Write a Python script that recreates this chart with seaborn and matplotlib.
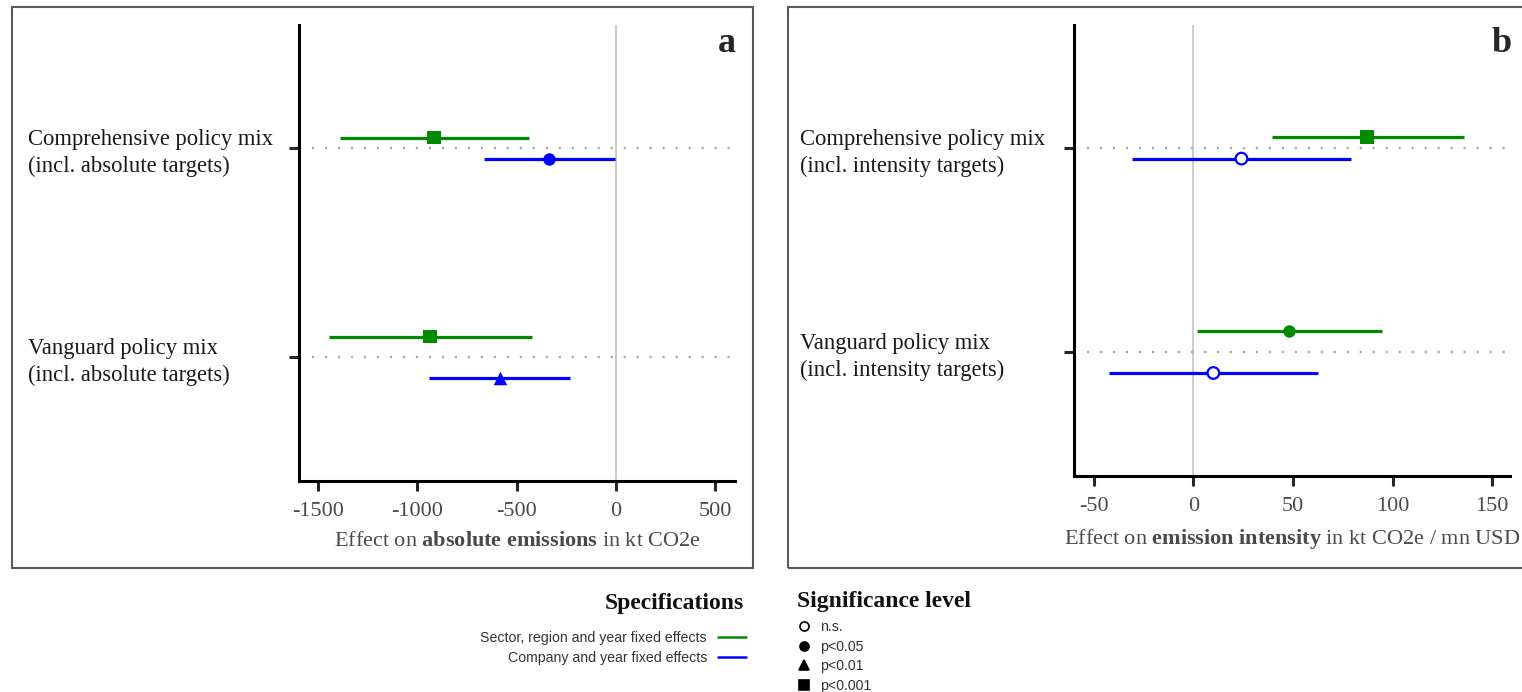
import numpy as np
import pandas as pd
import matplotlib
matplotlib.use("Agg")
import matplotlib.pyplot as plt
import seaborn as sns
from matplotlib.lines import Line2D
from matplotlib.patches import Rectangle
from matplotlib.font_manager import FontProperties

# ---------------- data ----------------
specs = ["Sector, region and year fixed effects", "Company and year fixed effects"]
sig_levels = ["n.s.", "p<0.05", "p<0.01", "p<0.001"]

cats_a = ["Comprehensive policy mix\n(incl. absolute targets)",
          "Vanguard policy mix\n(incl. absolute targets)"]
a_green_est = [-916, -936]
a_green_lo = [-1389, -1444]
a_green_hi = [-438, -423]
a_green_sig = ["p<0.001", "p<0.001"]
a_blue_est = [-337, -584]
a_blue_lo = [-664, -941]
a_blue_hi = [-5, -232]
a_blue_sig = ["p<0.05", "p<0.01"]

cats_b = ["Comprehensive policy mix\n(incl. intensity targets)",
          "Vanguard policy mix\n(incl. intensity targets)"]
b_green_est = [87.4, 48.2]
b_green_lo = [39.7, 2.0]
b_green_hi = [135.7, 94.5]
b_green_sig = ["p<0.001", "p<0.05"]
b_blue_est = [24.1, 10.0]
b_blue_lo = [-31.0, -42.2]
b_blue_hi = [78.9, 62.8]
b_blue_sig = ["n.s.", "n.s."]

xticks_a = [-1500, -1000, -500, 0, 500]
xticks_b = [-50, 0, 50, 100, 150]

# ---------------- style ----------------
GREEN = "#008a00"
BLUE = "#0000ff"
palette = {specs[0]: GREEN, specs[1]: BLUE}
marker_map = {"n.s.": "o", "p<0.05": "o", "p<0.01": "^", "p<0.001": "s"}
size_map = {"n.s.": 70, "p<0.05": 80, "p<0.01": 95, "p<0.001": 90}

sns.set_style("ticks")
plt.rcParams["font.family"] = ["Liberation Serif", "DejaVu Serif"]
plt.rcParams["mathtext.fontset"] = "custom"
plt.rcParams["mathtext.rm"] = "Liberation Serif"
plt.rcParams["mathtext.bf"] = "Liberation Serif:bold"
plt.rcParams["mathtext.it"] = "Liberation Serif:italic"

W, H = 1522, 692
fig = plt.figure(figsize=(W / 100, H / 100), dpi=100)
fig.patch.set_facecolor("white")


def fx(px):
    return px / W


def fy(py):
    return 1 - py / H


def build(cats, ge, gl, gh, gs, be, bl, bh, bs):
    rows = []
    for i, c in enumerate(cats):
        rows.append(dict(cat=c, idx=i, spec=specs[0], est=ge[i], lo=gl[i], hi=gh[i], sig=gs[i]))
        rows.append(dict(cat=c, idx=i, spec=specs[1], est=be[i], lo=bl[i], hi=bh[i], sig=bs[i]))
    return pd.DataFrame(rows)


def panel(ax, df, cats, offsets, ylim, xlim, xticks, xlabel, label_pad):
    sign = df["spec"].map({specs[0]: -1.0, specs[1]: 1.0})
    df = df.assign(y=df["idx"] + sign * df["idx"].map(lambda i: offsets[i]))
    ax.axvline(0, color="#c8c8c8", lw=1.3, zorder=1)
    for i in range(len(cats)):
        ax.axhline(i, color="#a8a8a8", lw=1.7, dashes=(0.9, 4.6), zorder=1)
    for _, r in df.iterrows():
        ax.hlines(r["y"], r["lo"], r["hi"], color=palette[r["spec"]], lw=2.3, zorder=2)
    filled = df[df["sig"] != "n.s."]
    for sig, sub in filled.groupby("sig"):
        sns.scatterplot(data=sub, x="est", y="y", hue="spec", palette=palette,
                        marker=marker_map[sig], s=size_map[sig], linewidth=0,
                        legend=False, ax=ax, zorder=3)
    ns = df[df["sig"] == "n.s."]
    if len(ns):
        sns.scatterplot(data=ns, x="est", y="y", color="white", marker="o",
                        s=size_map["n.s."], linewidth=1.6,
                        edgecolor=[palette[s] for s in ns["spec"]],
                        legend=False, ax=ax, zorder=3)
    ax.set_xlim(*xlim)
    ax.set_ylim(*ylim)
    ax.set_xticks(xticks)
    ax.set_xticklabels([str(t) for t in xticks])
    ax.set_yticks(range(len(cats)))
    ax.set_yticklabels(cats, linespacing=1.35)
    for lab in ax.get_yticklabels():
        lab.set_horizontalalignment("left")
        lab.set_color("#1a1a1a")
    ax.tick_params(axis="y", length=7, width=2.2, pad=label_pad, labelsize=16.3)
    ax.tick_params(axis="x", length=7, width=2.2, pad=8, labelsize=16, labelcolor="#4a4a4a")
    for s in ["top", "right"]:
        ax.spines[s].set_visible(False)
    for s in ["left", "bottom"]:
        ax.spines[s].set_linewidth(2.2)
        ax.spines[s].set_color("black")
    ax.set_xlabel(xlabel, fontsize=16, color="#4a4a4a", labelpad=8)
    ax.set_ylabel("")
    ax.set_facecolor("white")


# panel boxes
fig.add_artist(Rectangle((fx(12), fy(568)), fx(753 - 12), (568 - 7) / H,
                         transform=fig.transFigure, fill=False, ec="#5a5a5a", lw=1.5))
fig.add_artist(Rectangle((fx(788), fy(568)), fx(1540 - 788), (568 - 7) / H,
                         transform=fig.transFigure, fill=False, ec="#5a5a5a", lw=1.5,
                         clip_on=False))

ax_a = fig.add_axes([fx(299), fy(481), fx(735 - 299), (481 - 25) / H])
ax_b = fig.add_axes([fx(1074), fy(476), fx(1510 - 1074), (476 - 25) / H])

df_a = build(cats_a, a_green_est, a_green_lo, a_green_hi, a_green_sig,
             a_blue_est, a_blue_lo, a_blue_hi, a_blue_sig)
df_b = build(cats_b, b_green_est, b_green_lo, b_green_hi, b_green_sig,
             b_blue_est, b_blue_lo, b_blue_hi, b_blue_sig)

panel(ax_a, df_a, cats_a, [0.05, 0.098], (1.593, -0.589), (-1595, 599), xticks_a,
      r"Effect on $\mathbf{absolute\ emissions}$ in kt CO2e", (299 - 7 - 31) * 0.72)
panel(ax_b, df_b, cats_b, [0.052, 0.103], (1.608, -0.603), (-60, 159), xticks_b,
      r"Effect on $\mathbf{emission\ intensity}$ in kt CO2e / mn USD", (1074 - 7 - 803) * 0.72)

# panel letters
fig.text(fx(727), fy(52), "a", fontsize=26, fontweight="bold", ha="center", va="baseline")
fig.text(fx(1502), fy(52), "b", fontsize=26, fontweight="bold", ha="center", va="baseline")

# legend titles
title_fp = FontProperties(family="Liberation Serif", weight="bold", size=17)
fig.text(fx(744), fy(603), "Specifications", fontproperties=title_fp,
         ha="right", va="center", color="#111111")
fig.text(fx(797), fy(601), "Significance level", fontproperties=title_fp,
         ha="left", va="center", color="#111111")

# legends
spec_handles = [Line2D([], [], color=GREEN, lw=1.8), Line2D([], [], color=BLUE, lw=1.8)]
leg1 = fig.legend(spec_handles, specs, loc="upper right",
                  bbox_to_anchor=(fx(746), fy(631)), frameon=False, markerfirst=False,
                  handlelength=2.0, handletextpad=0.75, labelspacing=0.45,
                  borderpad=0, borderaxespad=0,
                  prop=FontProperties(family="Liberation Sans", size=10.2))
leg1._legend_box.align = "right"
for t in leg1.get_texts():
    t.set_color("#333333")

sig_handles = []
for s in sig_levels:
    sig_handles.append(Line2D([], [], ls="none", marker=marker_map[s], color="black",
                              markersize=6.5 if s != "p<0.01" else 7,
                              markerfacecolor="white" if s == "n.s." else "black",
                              markeredgewidth=1.2))
leg2 = fig.legend(sig_handles, sig_levels, loc="upper left",
                  bbox_to_anchor=(fx(799), fy(620)), frameon=False,
                  handlelength=0.7, handletextpad=0.8, labelspacing=0.4,
                  borderpad=0, borderaxespad=0,
                  prop=FontProperties(family="Liberation Sans", size=10.2))
leg2._legend_box.align = "left"
for t in leg2.get_texts():
    t.set_color("#333333")

fig.savefig("out.png", dpi=100, facecolor="white")
